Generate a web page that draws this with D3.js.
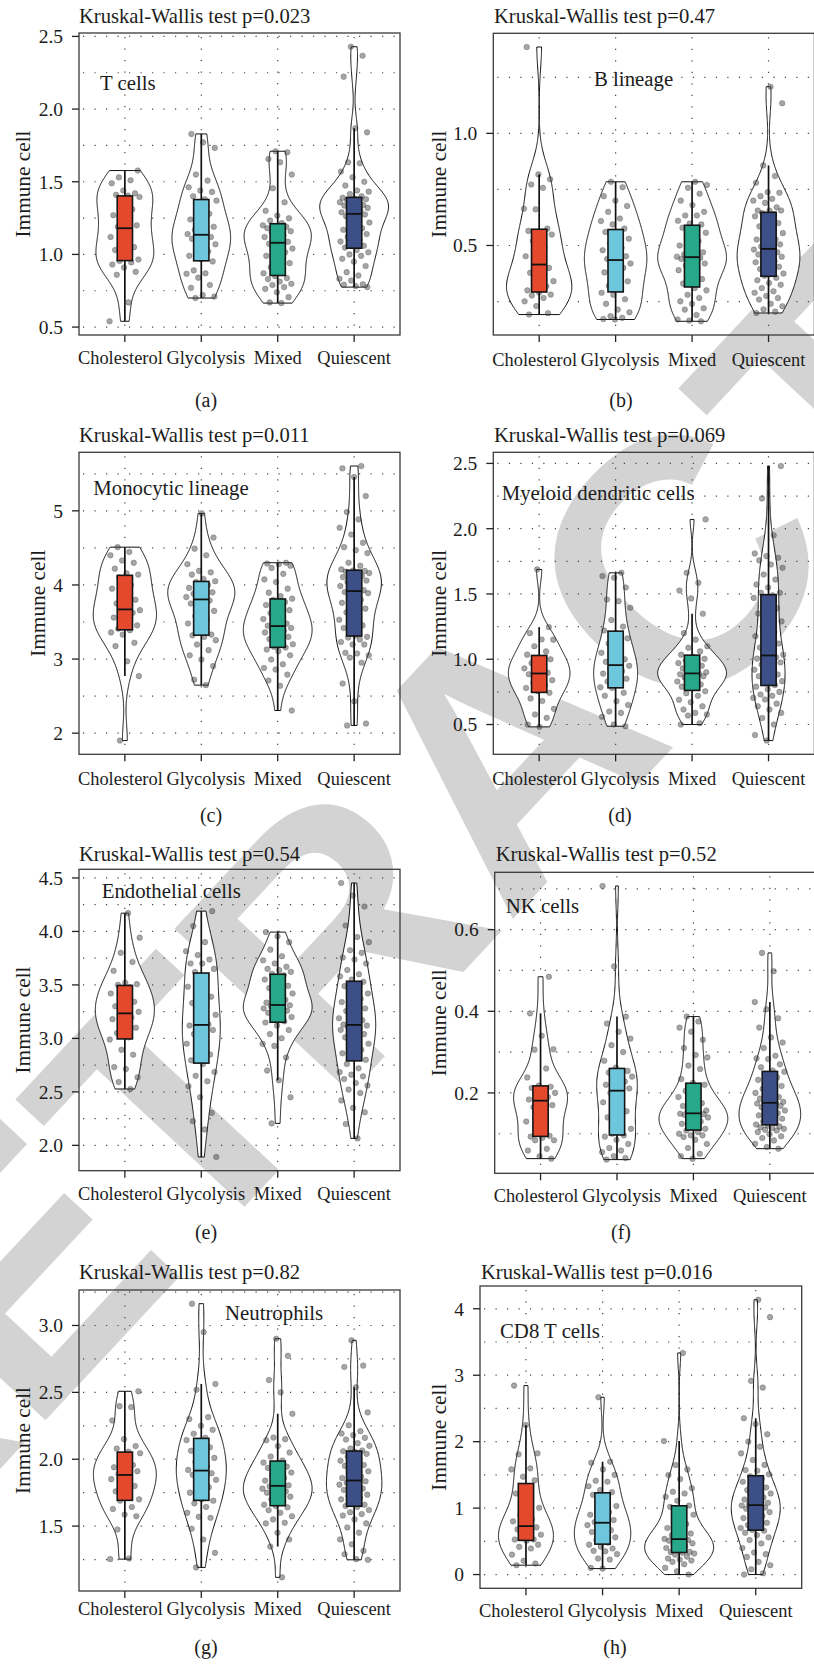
<!DOCTYPE html>
<html>
<head>
<meta charset="utf-8">
<script src="https://cdn.jsdelivr.net/npm/d3@7"></script>
<style>
  html, body { margin: 0; padding: 0; background: #ffffff; }
  svg { display: block; }
</style>
</head>
<body>
<svg id="fig" width="814" height="1664"></svg>
<script>
// ---- categories and annotations ----
const groups = ["Cholesterol", "Glycolysis", "Mixed", "Quiescent"];
const groupFill = ["#E4492E", "#6DC6DC", "#27A88A", "#3C4F86"];
const cellTypes = ["T cells", "B lineage", "Monocytic lineage", "Myeloid dendritic cells",
                   "Endothelial cells", "NK cells", "Neutrophils", "CD8 T cells"];
const kruskalP = ["0.023", "0.47", "0.011", "0.069", "0.54", "0.52", "0.82", "0.016"];
const panelTags = ["(a)", "(b)", "(c)", "(d)", "(e)", "(f)", "(g)", "(h)"];

// ---- y tick values and labels ----
const ticksA = [0.5, 1.0, 1.5, 2.0, 2.5], tickLabelsA = ["0.5", "1.0", "1.5", "2.0", "2.5"];
const ticksB = [0.5, 1.0], tickLabelsB = ["0.5", "1.0"];
const ticksC = [2, 3, 4, 5], tickLabelsC = ["2", "3", "4", "5"];
const ticksD = [0.5, 1.0, 1.5, 2.0, 2.5], tickLabelsD = ["0.5", "1.0", "1.5", "2.0", "2.5"];
const ticksE = [2.0, 2.5, 3.0, 3.5, 4.0, 4.5], tickLabelsE = ["2.0", "2.5", "3.0", "3.5", "4.0", "4.5"];
const ticksF = [0.2, 0.4, 0.6], tickLabelsF = ["0.2", "0.4", "0.6"];
const ticksG = [1.5, 2.0, 2.5, 3.0], tickLabelsG = ["1.5", "2.0", "2.5", "3.0"];
const ticksH = [0, 1, 2, 3, 4], tickLabelsH = ["0", "1", "2", "3", "4"];

// ---- immune cell scores per sample, one list per subtype (Cholesterol, Glycolysis, Mixed, Quiescent) ----
const tCells = [
  [0.54,0.67,0.86,0.88,0.91,0.93,0.945,0.955,0.965,1.00,1.03,1.05,1.08,1.12,1.17,1.19,1.20,1.23,1.27,1.31,1.36,1.395,1.405,1.41,1.42,1.44,1.49,1.51,1.53,1.577],
  [0.70,0.71,0.72,0.77,0.79,0.84,0.867,0.87,0.89,0.952,0.968,0.99,1.02,1.05,1.07,1.09,1.107,1.12,1.13,1.14,1.153,1.17,1.19,1.21,1.24,1.28,1.31,1.37,1.38,1.40,1.43,1.44,1.462,1.508,1.55,1.733,1.771,1.829],
  [0.665,0.67,0.706,0.74,0.763,0.775,0.79,0.798,0.814,0.83,0.837,0.85,0.87,0.89,0.912,0.94,0.97,0.99,1.015,1.02,1.04,1.06,1.073,1.087,1.10,1.12,1.13,1.153,1.16,1.17,1.18,1.19,1.195,1.20,1.215,1.233,1.249,1.267,1.30,1.359,1.455,1.55,1.634,1.657,1.703,1.71],
  [0.775,0.782,0.791,0.795,0.821,0.832,0.855,0.878,0.92,0.95,0.97,0.99,1.00,1.015,1.03,1.047,1.06,1.08,1.089,1.10,1.12,1.14,1.153,1.17,1.18,1.20,1.22,1.24,1.263,1.275,1.283,1.29,1.30,1.31,1.32,1.33,1.336,1.34,1.35,1.359,1.37,1.375,1.38,1.385,1.39,1.40,1.416,1.432,1.44,1.474,1.50,1.531,1.57,1.627,1.634,1.84,1.868,2.223,2.367,2.429]
];
const bLineage = [
  [0.192,0.198,0.23,0.251,0.266,0.277,0.281,0.29,0.30,0.318,0.333,0.341,0.344,0.378,0.40,0.43,0.452,0.49,0.52,0.549,0.557,0.565,0.575,0.661,0.664,0.757,0.772,0.795,0.817,1.385],
  [0.17,0.172,0.177,0.185,0.202,0.214,0.24,0.26,0.28,0.289,0.305,0.32,0.34,0.36,0.38,0.40,0.415,0.42,0.43,0.44,0.452,0.46,0.479,0.49,0.51,0.53,0.55,0.56,0.575,0.594,0.609,0.62,0.65,0.676,0.70,0.72,0.76,0.784],
  [0.162,0.165,0.17,0.19,0.214,0.22,0.24,0.251,0.266,0.28,0.30,0.31,0.33,0.35,0.378,0.39,0.40,0.41,0.42,0.43,0.44,0.445,0.446,0.45,0.452,0.46,0.47,0.48,0.50,0.52,0.54,0.557,0.57,0.579,0.594,0.598,0.61,0.634,0.634,0.65,0.68,0.70,0.731,0.757,0.77,0.784],
  [0.199,0.205,0.215,0.229,0.24,0.259,0.266,0.275,0.289,0.296,0.31,0.325,0.333,0.345,0.356,0.365,0.375,0.385,0.395,0.405,0.415,0.425,0.43,0.44,0.45,0.452,0.46,0.47,0.478,0.482,0.488,0.495,0.505,0.515,0.527,0.527,0.54,0.555,0.57,0.585,0.60,0.615,0.63,0.64,0.645,0.656,0.656,0.656,0.67,0.69,0.70,0.708,0.72,0.735,0.738,0.78,0.81,0.857,1.134,1.208]
];
const monocyticLineage = [
  [1.90,2.77,2.97,3.175,3.22,3.33,3.36,3.39,3.41,3.455,3.50,3.56,3.625,3.65,3.66,3.68,3.75,3.80,3.88,3.95,4.0,4.10,4.14,4.157,4.22,4.30,4.33,4.40,4.445,4.51],
  [2.648,2.72,2.905,2.995,3.05,3.12,3.197,3.255,3.30,3.32,3.33,3.42,3.48,3.535,3.58,3.65,3.70,3.75,3.79,3.82,3.836,3.86,3.88,3.90,3.93,3.96,4.00,4.04,4.05,4.08,4.14,4.17,4.19,4.28,4.40,4.49,4.64,4.966],
  [2.306,2.64,2.71,2.79,2.86,2.88,2.93,2.995,3.05,3.107,3.13,3.155,3.166,3.20,3.23,3.27,3.30,3.33,3.36,3.38,3.40,3.42,3.44,3.45,3.48,3.51,3.54,3.58,3.62,3.66,3.69,3.73,3.77,3.80,3.815,3.85,3.896,3.95,4.04,4.075,4.15,4.23,4.26,4.28,4.29,4.30],
  [2.104,2.13,2.43,2.67,2.95,3.02,3.05,3.076,3.085,3.197,3.197,3.23,3.265,3.29,3.30,3.315,3.42,3.454,3.48,3.53,3.58,3.63,3.68,3.72,3.76,3.80,3.85,3.89,3.90,3.905,3.93,3.97,3.985,4.00,4.04,4.06,4.08,4.106,4.12,4.14,4.16,4.175,4.18,4.19,4.195,4.21,4.26,4.30,4.43,4.47,4.51,4.57,4.68,4.772,4.885,4.985,5.20,5.456,5.573,5.605]
];
const myeloidDendritic = [
  [0.482,0.50,0.551,0.577,0.62,0.68,0.70,0.743,0.755,0.78,0.80,0.82,0.84,0.87,0.885,0.897,0.91,0.93,0.947,0.97,1.00,1.011,1.035,1.06,1.10,1.15,1.151,1.20,1.246,1.688],
  [0.487,0.50,0.559,0.589,0.60,0.65,0.679,0.72,0.743,0.78,0.785,0.806,0.83,0.85,0.87,0.89,0.909,0.93,0.95,0.96,0.98,1.00,1.024,1.05,1.08,1.12,1.16,1.20,1.22,1.25,1.30,1.394,1.445,1.458,1.55,1.624,1.637,1.662],
  [0.50,0.51,0.569,0.577,0.589,0.615,0.64,0.671,0.69,0.72,0.74,0.755,0.78,0.79,0.807,0.82,0.83,0.845,0.86,0.87,0.88,0.885,0.888,0.895,0.90,0.916,0.93,0.95,0.96,0.97,0.98,0.99,1.003,1.02,1.035,1.06,1.088,1.10,1.15,1.20,1.348,1.466,1.527,1.585,1.662,2.071],
  [0.377,0.42,0.50,0.55,0.589,0.615,0.64,0.66,0.692,0.704,0.72,0.73,0.75,0.77,0.79,0.802,0.82,0.832,0.85,0.87,0.883,0.90,0.92,0.947,0.96,0.975,0.99,1.005,1.015,1.024,1.034,1.06,1.09,1.12,1.15,1.177,1.21,1.25,1.29,1.317,1.35,1.39,1.432,1.47,1.49,1.509,1.509,1.55,1.573,1.61,1.649,1.70,1.726,1.757,1.777,1.79,1.81,1.95,2.232,2.48]
];
const endothelialCells = [
  [2.527,2.592,2.636,2.713,2.732,2.847,2.893,2.99,3.01,3.05,3.10,3.14,3.18,3.197,3.22,3.248,3.27,3.30,3.343,3.38,3.42,3.48,3.50,3.507,3.52,3.632,3.715,3.80,3.942,4.171],
  [1.891,2.149,2.226,2.304,2.45,2.552,2.599,2.65,2.686,2.76,2.795,2.85,2.90,2.95,3.00,3.04,3.079,3.10,3.12,3.132,3.17,3.22,3.28,3.33,3.39,3.44,3.483,3.585,3.62,3.65,3.70,3.70,3.737,3.78,3.815,3.90,4.05,4.19],
  [2.205,2.45,2.608,2.70,2.822,2.93,2.949,3.002,3.04,3.079,3.12,3.148,3.16,3.188,3.20,3.22,3.24,3.26,3.27,3.28,3.29,3.30,3.31,3.315,3.334,3.36,3.39,3.42,3.45,3.47,3.492,3.53,3.551,3.59,3.603,3.622,3.638,3.65,3.669,3.70,3.73,3.768,3.83,3.90,3.954,3.994],
  [2.065,2.20,2.31,2.35,2.42,2.49,2.521,2.56,2.583,2.62,2.645,2.661,2.685,2.72,2.76,2.80,2.83,2.86,2.893,2.92,2.95,2.986,3.01,3.04,3.06,3.08,3.10,3.11,3.12,3.122,3.13,3.17,3.188,3.188,3.21,3.256,3.28,3.312,3.34,3.37,3.40,3.42,3.46,3.489,3.529,3.55,3.58,3.60,3.64,3.70,3.737,3.756,3.80,3.824,3.90,3.948,4.056,4.233,4.336,4.453]
];
const nkCells = [
  [0.039,0.045,0.059,0.063,0.084,0.084,0.09,0.093,0.095,0.116,0.13,0.15,0.165,0.17,0.178,0.184,0.19,0.195,0.20,0.207,0.212,0.215,0.218,0.238,0.26,0.306,0.307,0.34,0.395,0.4846],
  [0.0366,0.0406,0.045,0.055,0.059,0.065,0.075,0.085,0.093,0.096,0.10,0.112,0.124,0.14,0.155,0.168,0.177,0.19,0.20,0.211,0.214,0.22,0.228,0.234,0.24,0.245,0.25,0.254,0.262,0.279,0.30,0.317,0.333,0.35,0.37,0.387,0.51,0.707],
  [0.039,0.045,0.051,0.065,0.075,0.085,0.092,0.096,0.096,0.10,0.104,0.108,0.112,0.118,0.1244,0.13,0.135,0.14,0.143,0.146,0.148,0.149,0.149,0.151,0.155,0.157,0.161,0.168,0.175,0.183,0.19,0.198,0.205,0.22,0.225,0.234,0.2585,0.267,0.287,0.2927,0.31,0.33,0.35,0.36,0.375,0.387],
  [0.0634,0.0675,0.0756,0.0837,0.0894,0.094,0.099,0.104,0.108,0.11,0.112,0.114,0.116,0.118,0.12,0.1225,0.126,0.13,0.1366,0.14,0.145,0.15,0.153,0.157,0.16,0.165,0.168,0.171,0.174,0.175,0.1765,0.178,0.181,0.186,0.19,0.196,0.2,0.2057,0.21,0.217,0.226,0.232,0.238,0.242,0.252,0.255,0.263,0.27,0.283,0.2846,0.291,0.31,0.3236,0.336,0.36,0.383,0.405,0.4228,0.498,0.543]
];
const neutrophils = [
  [1.253,1.258,1.475,1.574,1.586,1.628,1.643,1.69,1.70,1.727,1.76,1.80,1.83,1.851,1.875,1.89,1.91,1.92,1.94,1.957,2.00,2.045,2.056,2.08,2.098,2.15,2.29,2.39,2.397,2.508],
  [1.191,1.30,1.40,1.48,1.562,1.569,1.599,1.643,1.67,1.69,1.70,1.75,1.79,1.82,1.846,1.87,1.883,1.895,1.91,1.92,1.945,1.98,2.01,2.044,2.063,2.09,2.12,2.143,2.16,2.19,2.22,2.25,2.30,2.315,2.52,2.563,2.95,3.163],
  [1.117,1.347,1.40,1.45,1.52,1.525,1.55,1.574,1.60,1.619,1.64,1.65,1.66,1.68,1.70,1.72,1.74,1.75,1.76,1.77,1.78,1.789,1.797,1.805,1.82,1.84,1.86,1.878,1.90,1.92,1.935,1.945,1.96,1.975,1.99,2.02,2.05,2.098,2.142,2.15,2.162,2.34,2.50,2.592,2.773,2.901],
  [1.248,1.253,1.29,1.315,1.364,1.40,1.451,1.49,1.52,1.55,1.579,1.59,1.604,1.62,1.643,1.65,1.66,1.68,1.70,1.71,1.727,1.735,1.75,1.77,1.78,1.797,1.81,1.82,1.826,1.835,1.847,1.86,1.87,1.89,1.91,1.93,1.95,1.957,1.975,1.989,2.00,2.02,2.04,2.055,2.06,2.065,2.08,2.10,2.12,2.147,2.16,2.18,2.192,2.21,2.254,2.35,2.538,2.69,2.70,2.889]
];
const cd8TCells = [
  [0.141,0.166,0.206,0.30,0.392,0.417,0.45,0.51,0.528,0.528,0.56,0.60,0.64,0.68,0.71,0.748,0.80,0.829,0.90,1.005,1.146,1.221,1.42,1.472,1.583,1.598,1.809,1.824,2.251,2.844],
  [0.09,0.10,0.226,0.241,0.307,0.35,0.357,0.392,0.42,0.45,0.48,0.52,0.56,0.60,0.64,0.668,0.70,0.744,0.77,0.79,0.82,0.86,0.90,0.94,0.98,1.03,1.07,1.20,1.24,1.271,1.33,1.397,1.412,1.50,1.583,1.683,1.698,2.668],
  [0,0.05,0.10,0.156,0.191,0.21,0.226,0.241,0.27,0.30,0.317,0.33,0.338,0.342,0.37,0.40,0.427,0.45,0.47,0.49,0.51,0.52,0.53,0.537,0.56,0.59,0.618,0.658,0.70,0.76,0.83,0.90,0.97,1.02,1.04,1.11,1.171,1.221,1.246,1.30,1.437,1.497,1.583,1.648,2.01,3.335],
  [0,0.02,0.08,0.141,0.191,0.266,0.307,0.332,0.40,0.467,0.52,0.56,0.593,0.63,0.66,0.671,0.70,0.719,0.744,0.78,0.81,0.85,0.88,0.91,0.94,0.97,0.99,1.01,1.03,1.04,1.05,1.06,1.08,1.10,1.13,1.16,1.19,1.221,1.25,1.271,1.31,1.35,1.397,1.44,1.48,1.51,1.563,1.573,1.65,1.724,1.824,1.925,2.0,2.111,2.266,2.352,2.814,2.915,3.874,4.136]
];

const panelData = [tCells, bLineage, monocyticLineage, myeloidDendritic, endothelialCells, nkCells, neutrophils, cd8TCells];
const panelTicks = [ticksA, ticksB, ticksC, ticksD, ticksE, ticksF, ticksG, ticksH];
const panelTickLabels = [tickLabelsA, tickLabelsB, tickLabelsC, tickLabelsD, tickLabelsE, tickLabelsF, tickLabelsG, tickLabelsH];

// ---- page layout of the eight sub-figures ----
const layout = [
  {left: 79,    right: 400,   top: 33,    bottom: 335,    titleX: 79,    titleY: 22.5,  xLabY: 363.5,  capX: 206, capY: 406.5,  tagX: 100,   tagY: 89.5,   yTitleX: 29.5},
  {left: 493.3, right: 814.4, top: 33.3,  bottom: 335,    titleX: 494,   titleY: 22.5,  xLabY: 365.5,  capX: 621, capY: 406.5,  tagX: 594,   tagY: 85.5,   yTitleX: 445.5},
  {left: 79,    right: 400,   top: 452.3, bottom: 754.3,  titleX: 79,    titleY: 441.5, xLabY: 785,    capX: 211, capY: 822,    tagX: 93.3,  tagY: 494.5,  yTitleX: 44.5},
  {left: 493.3, right: 814.4, top: 452.3, bottom: 754.3,  titleX: 494,   titleY: 441.5, xLabY: 785,    capX: 620, capY: 822,    tagX: 501.7, tagY: 499.5,  yTitleX: 445.5},
  {left: 79,    right: 400,   top: 869.3, bottom: 1170.7, titleX: 79,    titleY: 860.5, xLabY: 1200,   capX: 206, capY: 1238.5, tagX: 101.7, tagY: 897.5,  yTitleX: 30.3},
  {left: 494.7, right: 815.7, top: 872.3, bottom: 1173.3, titleX: 495.7, titleY: 860.5, xLabY: 1201.5, capX: 621, capY: 1238.5, tagX: 505.7, tagY: 912.5,  yTitleX: 446.3},
  {left: 79,    right: 400,   top: 1290,  bottom: 1591,   titleX: 79,    titleY: 1279,  xLabY: 1614.5, capX: 206, capY: 1654,   tagX: 225,   tagY: 1320,   yTitleX: 29.5},
  {left: 480,   right: 801.7, top: 1286,  bottom: 1588.3, titleX: 481,   titleY: 1279,  xLabY: 1617,   capX: 615, capY: 1654,   tagX: 500,   tagY: 1337.5, yTitleX: 445.5}
];
// small horizontal nudges that keep the two long category names apart
const xLabelNudge = [-4.5, 4.5, 0, 0];

const SERIF = "'Liberation Serif', 'Times New Roman', serif";
const INK = "#1c1c1c";
const svg = d3.select("#fig");

// Watermark stamped behind every panel
svg.append("text")
  .attr("transform", "translate(501,747) rotate(-47)")
  .attr("text-anchor", "middle")
  .attr("dy", "0.36em")
  .attr("font-family", "'Liberation Sans', Arial, sans-serif")
  .attr("font-weight", "bold")
  .attr("font-size", 350)
  .attr("fill", "#d3d3d3")
  .text("RETRACTED");

// Gaussian kernel density, bandwidth by R's bw.nrd0, trimmed to the data range
function violinDensity(values, n = 256) {
  const s = values.slice().sort(d3.ascending);
  const m = s.length;
  const sd = d3.deviation(s);
  const iqr = d3.quantileSorted(s, 0.75) - d3.quantileSorted(s, 0.25);
  let lo = Math.min(sd, iqr / 1.34);
  if (!(lo > 0)) lo = sd || Math.abs(s[0]) || 1;
  const bw = 0.9 * lo * Math.pow(m, -0.2);
  const norm = 1 / (m * bw * Math.sqrt(2 * Math.PI));
  const y0 = s[0], y1 = s[m - 1];
  return d3.range(n).map(i => {
    const y = y0 + (y1 - y0) * i / (n - 1);
    let d = 0;
    for (const v of s) { const z = (y - v) / bw; d += Math.exp(-0.5 * z * z); }
    return [y, d * norm];
  });
}

// Tukey box statistics (quantile type 7, whiskers at 1.5 IQR)
function boxStats(values) {
  const s = values.slice().sort(d3.ascending);
  const q1 = d3.quantileSorted(s, 0.25), med = d3.quantileSorted(s, 0.5), q3 = d3.quantileSorted(s, 0.75);
  const iqr = q3 - q1;
  const lowFence = q1 - 1.5 * iqr, highFence = q3 + 1.5 * iqr;
  const lo = d3.min(s.filter(v => v >= lowFence));
  const hi = d3.max(s.filter(v => v <= highFence));
  return {q1, med, q3, lo, hi};
}

function drawPanel(k) {
  const L = layout[k];
  const data = panelData[k];
  const ticks = panelTicks[k];
  const tickLabels = panelTickLabels[k];
  const g = svg.append("g");

  // scales: discrete positions 1..4 with 0.6 padding, continuous y with 5% expansion
  const x = d3.scaleLinear().domain([0.4, 4.6]).range([L.left, L.right]);
  const all = data.flat();
  const lo = d3.min(all), hi = d3.max(all), pad = (hi - lo) * 0.05;
  const y = d3.scaleLinear().domain([lo - pad, hi + pad]).range([L.bottom, L.top]);
  const unit = x(2) - x(1);

  // dotted grid: major + minor horizontals, verticals at categories
  const step = ticks[1] - ticks[0];
  const minor = [];
  for (let v = ticks[0] - step / 2; v <= hi + pad; v += step) {
    if (v >= lo - pad) minor.push(v);
  }
  const grid = g.append("g")
    .attr("stroke", "#454545").attr("stroke-width", 1.2)
    .attr("stroke-dasharray", "1.2 10.3").attr("fill", "none");
  ticks.concat(minor).forEach(v => {
    grid.append("line").attr("x1", L.left + 4).attr("x2", L.right).attr("y1", y(v)).attr("y2", y(v));
  });
  groups.forEach((_, i) => {
    grid.append("line").attr("x1", x(i + 1)).attr("x2", x(i + 1)).attr("y1", L.top + 4).attr("y2", L.bottom);
  });

  // violins, scaled so all groups in the panel share a common area
  const dens = data.map(vals => violinDensity(vals));
  const maxD = d3.max(dens, d => d3.max(d, p => p[1]));
  const halfW = 0.45 * unit;
  dens.forEach((d, i) => {
    const cx = x(i + 1);
    const area = d3.area()
      .y(p => y(p[0]))
      .x0(p => cx - halfW * p[1] / maxD)
      .x1(p => cx + halfW * p[1] / maxD);
    g.append("path").attr("d", area(d))
      .attr("fill", "#ffffff").attr("stroke", "#111111").attr("stroke-width", 1.0)
      .attr("stroke-linejoin", "round");
  });

  // jittered samples (horizontal jitter of +-0.2 category widths)
  data.forEach((vals, i) => {
    const cx = x(i + 1);
    vals.forEach((v, j) => {
      const u = ((j * 0.6180339887 + i * 0.31 + k * 0.17) % 1);
      g.append("circle")
        .attr("cx", cx + (u - 0.5) * 0.4 * unit)
        .attr("cy", y(v))
        .attr("r", 2.8)
        .attr("fill", "#3a3a3a").attr("fill-opacity", 0.45)
        .attr("stroke", "#3a3a3a").attr("stroke-opacity", 0.4).attr("stroke-width", 0.7);
    });
  });

  // box plots
  data.forEach((vals, i) => {
    const b = boxStats(vals);
    const cx = x(i + 1), bw = 0.1 * unit;
    g.append("line").attr("x1", cx).attr("x2", cx).attr("y1", y(b.hi)).attr("y2", y(b.q3))
      .attr("stroke", "#111").attr("stroke-width", 1.7);
    g.append("line").attr("x1", cx).attr("x2", cx).attr("y1", y(b.q1)).attr("y2", y(b.lo))
      .attr("stroke", "#111").attr("stroke-width", 1.7);
    g.append("rect").attr("x", cx - bw).attr("width", 2 * bw)
      .attr("y", y(b.q3)).attr("height", y(b.q1) - y(b.q3))
      .attr("fill", groupFill[i]).attr("stroke", "#151515").attr("stroke-width", 1.6);
    g.append("line").attr("x1", cx - bw).attr("x2", cx + bw).attr("y1", y(b.med)).attr("y2", y(b.med))
      .attr("stroke", "#111").attr("stroke-width", 1.8);
  });

  // panel border
  g.append("rect").attr("x", L.left).attr("y", L.top)
    .attr("width", L.right - L.left).attr("height", L.bottom - L.top)
    .attr("fill", "none").attr("stroke", "#3a3a3a").attr("stroke-width", 1.3);

  // y axis ticks and labels
  const yAxis = g.append("g");
  ticks.forEach((v, t) => {
    yAxis.append("line").attr("x1", L.left - 7).attr("x2", L.left).attr("y1", y(v)).attr("y2", y(v))
      .attr("stroke", "#222").attr("stroke-width", 1.3);
    yAxis.append("text").attr("x", L.left - 16).attr("y", y(v)).attr("dy", "0.35em")
      .attr("text-anchor", "end").attr("font-family", SERIF).attr("font-size", 19.5).attr("fill", INK)
      .text(tickLabels[t]);
  });

  // x axis ticks and labels
  groups.forEach((name, i) => {
    g.append("line").attr("x1", x(i + 1)).attr("x2", x(i + 1)).attr("y1", L.bottom).attr("y2", L.bottom + 7)
      .attr("stroke", "#222").attr("stroke-width", 1.3);
    g.append("text").attr("x", x(i + 1) + xLabelNudge[i]).attr("y", L.xLabY).attr("text-anchor", "middle")
      .attr("font-family", SERIF).attr("font-size", 18.4).attr("fill", INK).text(name);
  });

  // axis title, test result, cell type and sub-figure tag
  g.append("text").attr("transform", `translate(${L.yTitleX},${(L.top + L.bottom) / 2}) rotate(-90)`)
    .attr("text-anchor", "middle").attr("font-family", SERIF).attr("font-size", 21.3).attr("fill", INK)
    .text("Immune cell");
  g.append("text").attr("x", L.titleX).attr("y", L.titleY)
    .attr("font-family", SERIF).attr("font-size", 20.6).attr("fill", INK)
    .text("Kruskal-Wallis test p=" + kruskalP[k]);
  g.append("text").attr("x", L.tagX).attr("y", L.tagY)
    .attr("font-family", SERIF).attr("font-size", 20.8).attr("fill", INK)
    .text(cellTypes[k]);
  g.append("text").attr("x", L.capX).attr("y", L.capY).attr("text-anchor", "middle")
    .attr("font-family", SERIF).attr("font-size", 20).attr("fill", INK)
    .text(panelTags[k]);
}

panelData.forEach((_, k) => drawPanel(k));
</script>
</body>
</html>
